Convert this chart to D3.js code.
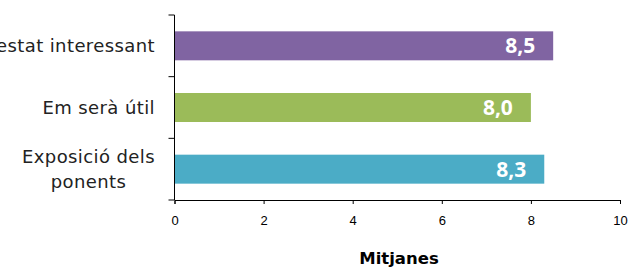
<!DOCTYPE html>
<html>
<head>
<meta charset="utf-8">
<script src="https://cdn.jsdelivr.net/npm/d3@7"></script>
<style>
	body { margin: 0; background: #fff; }
	svg { display: block; }
</style>
</head>
<body>
<div id="chart"></div>
<script>
// data
var categories = ["Ha estat interessant", "Em serà útil", "Exposició dels ponents"];
var labelLines = [["Ha estat interessant"], ["Em serà útil"], ["Exposició dels", "ponents"]];
var values = [8.5, 8.0, 8.3];
var colors = ["#8064a2", "#9bbb59", "#4bacc6"];
var xTicks = [0, 2, 4, 6, 8, 10];

var width = 631, height = 268;
var plotLeft = 174.5, plotRight = 620, plotTop = 15, plotBottom = 200;

var svg = d3.select("#chart").append("svg")
	.attr("width", width)
	.attr("height", height);

var x = d3.scaleLinear().domain([0, 10]).range([plotLeft, plotRight]);
var y = d3.scaleBand().domain(categories).range([plotTop, plotBottom]).paddingInner(0.53).paddingOuter(0.265);

// bars
svg.selectAll("rect.bar")
	.data(categories)
	.enter().append("rect")
	.attr("class", "bar")
	.attr("x", x(0))
	.attr("y", function(d) { return y(d); })
	.attr("width", function(d, i) { return x(values[i]) - x(0); })
	.attr("height", y.bandwidth())
	.attr("fill", function(d, i) { return colors[i]; });

// value labels
svg.selectAll("text.val")
	.data(categories)
	.enter().append("text")
	.attr("class", "val")
	.attr("x", function(d, i) { return x(values[i]) - 18; })
	.attr("y", function(d) { return y(d) + y.bandwidth() / 2; })
	.attr("dy", "0.36em")
	.attr("text-anchor", "end")
	.attr("fill", "#fff")
	.attr("font-family", "'Open Sans', 'DejaVu Sans', sans-serif")
	.attr("font-weight", "bold")
	.attr("font-size", "21px")
	.text(function(d, i) { return d3.format(".1f")(values[i]).replace(".", ","); });

// x axis
var xAxis = svg.append("g")
	.attr("transform", "translate(0," + plotBottom + ")")
	.call(d3.axisBottom(x).tickValues(xTicks).tickSize(4).tickSizeOuter(4));
xAxis.select(".domain").attr("stroke", "#000");
xAxis.selectAll("text")
	.attr("font-family", "'Liberation Sans', Arial, sans-serif")
	.attr("font-size", "13px")
	.attr("fill", "#000")
	.attr("dy", "1.35em");

// y axis: ticks at band boundaries
var yLine = svg.append("g");
yLine.append("line")
	.attr("x1", plotLeft).attr("x2", plotLeft)
	.attr("y1", plotTop).attr("y2", plotBottom)
	.attr("stroke", "#000");
var bounds = d3.range(categories.length + 1).map(function(i) {
	return plotTop + i * (plotBottom - plotTop) / categories.length;
});
yLine.selectAll("line.tick")
	.data(bounds)
	.enter().append("line")
	.attr("class", "tick")
	.attr("x1", plotLeft - 6).attr("x2", plotLeft)
	.attr("y1", function(d) { return d; })
	.attr("y2", function(d) { return d; })
	.attr("stroke", "#000");

// category labels (wrapped lines centred on each other, block right-aligned)
var labelRight = 155;
var cat = svg.selectAll("text.cat")
	.data(categories)
	.enter().append("text")
	.attr("class", "cat")
	.attr("text-anchor", "middle")
	.attr("font-family", "'DejaVu Sans', sans-serif")
	.attr("font-size", "18px")
	.attr("letter-spacing", "0.4px")
	.attr("fill", "#222")
	.attr("y", function(d) { return y(d) + y.bandwidth() / 2; });
cat.each(function(d, i) {
	var lines = labelLines[i];
	var t = d3.select(this);
	var spans = lines.map(function(l, j) {
		return t.append("tspan")
			.attr("dy", j == 0 ? (0.35 - (lines.length - 1) * 0.7) + "em" : "1.4em")
			.text(l);
	});
	var maxW = d3.max(spans, function(s) { return s.node().getComputedTextLength(); });
	spans.forEach(function(s) { s.attr("x", labelRight - maxW / 2); });
});

// axis title
svg.append("text")
	.attr("x", 399)
	.attr("y", 264)
	.attr("text-anchor", "middle")
	.attr("font-family", "'DejaVu Sans', sans-serif")
	.attr("font-weight", "bold")
	.attr("font-size", "16.5px")
	.attr("fill", "#000")
	.text("Mitjanes");
</script>
</body>
</html>
